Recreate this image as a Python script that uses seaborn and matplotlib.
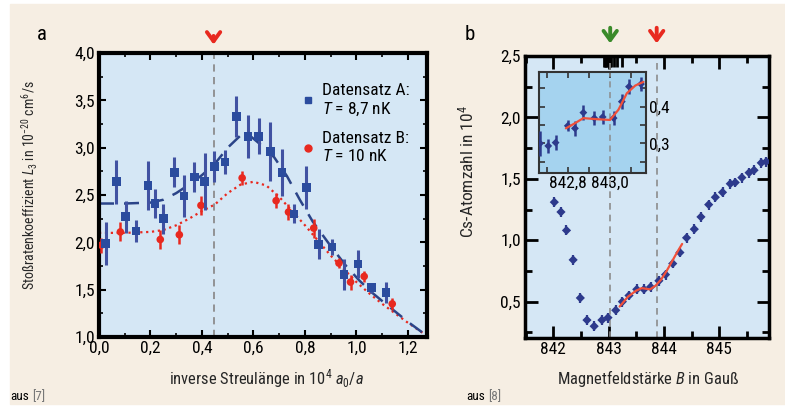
import matplotlib
matplotlib.use('Agg')
import matplotlib.pyplot as plt
import seaborn as sns
from matplotlib import font_manager
from matplotlib.patches import Rectangle
from matplotlib.lines import Line2D
from matplotlib.ticker import MultipleLocator, FixedLocator

# ---------------- panel a: L3 vs inverse scattering length ----------------
setA_x = [0.026, 0.067, 0.104, 0.143, 0.19, 0.217, 0.25, 0.293, 0.331, 0.37, 0.41, 0.448, 0.49,
          0.534, 0.578, 0.62, 0.666, 0.71, 0.757, 0.805, 0.853, 0.905, 0.952, 1.006, 1.058, 1.114]
setA_L3 = [1.99, 2.64, 2.27, 2.12, 2.60, 2.41, 2.25, 2.74, 2.49, 2.69, 2.64, 2.80, 2.85,
           3.33, 3.12, 3.12, 2.96, 2.74, 2.30, 2.58, 1.98, 1.95, 1.66, 1.77, 1.52, 1.47]
setA_err = [0.23, 0.23, 0.17, 0.12, 0.26, 0.15, 0.16, 0.16, 0.22, 0.16, 0.30, 0.16, 0.13,
            0.22, 0.23, 0.19, 0.31, 0.25, 0.10, 0.23, 0.16, 0.08, 0.16, 0.15, 0.05, 0.11]

setB_x = [0.009, 0.083, 0.238, 0.312, 0.396, 0.556, 0.688, 0.736, 0.834, 0.932, 0.977, 1.03, 1.139]
setB_L3 = [1.97, 2.11, 2.03, 2.08, 2.39, 2.68, 2.44, 2.32, 2.15, 1.78, 1.58, 1.64, 1.35]
setB_err = [0.08, 0.10, 0.10, 0.10, 0.10, 0.07, 0.08, 0.08, 0.10, 0.05, 0.08, 0.06, 0.06]

fitA_x = [0.0, 0.1, 0.2, 0.25, 0.3, 0.35, 0.4, 0.45, 0.5, 0.55, 0.58, 0.62, 0.68, 0.73, 0.78,
          0.83, 0.9, 0.96, 1.01, 1.06, 1.1, 1.15, 1.2, 1.27]
fitA_L3 = [2.41, 2.41, 2.42, 2.45, 2.52, 2.61, 2.71, 2.83, 3.00, 3.13, 3.14, 3.05, 2.90, 2.70, 2.45,
           2.22, 1.96, 1.75, 1.60, 1.47, 1.38, 1.27, 1.16, 1.02]

fitB_x = [0.0, 0.1, 0.2, 0.25, 0.3, 0.35, 0.4, 0.45, 0.5, 0.55, 0.6, 0.65, 0.7, 0.75, 0.8,
          0.85, 0.9, 0.95, 1.0, 1.05, 1.1, 1.15, 1.2, 1.27]
fitB_L3 = [2.10, 2.10, 2.11, 2.13, 2.18, 2.25, 2.33, 2.40, 2.52, 2.61, 2.64, 2.60, 2.48, 2.33, 2.18,
           2.02, 1.86, 1.72, 1.58, 1.46, 1.35, 1.25, 1.15, 1.02]

a_xticks = [0.0, 0.2, 0.4, 0.6, 0.8, 1.0, 1.2]
a_xticklabels = ['0,0', '0,2', '0,4', '0,6', '0,8', '1,0', '1,2']
a_yticks = [1.0, 1.5, 2.0, 2.5, 3.0, 3.5, 4.0]
a_yticklabels = ['1,0', '1,5', '2,0', '2,5', '3,0', '3,5', '4,0']
a_marker_line = 0.445

# ---------------- panel b: Cs atom number vs magnetic field ----------------
field_B = [842.02, 842.14, 842.24, 842.36, 842.49, 842.61, 842.74, 842.88, 842.99, 843.13, 843.25,
           843.37, 843.51, 843.64, 843.76, 843.91, 844.03, 844.16, 844.29, 844.41, 844.55, 844.67,
           844.81, 844.93, 845.06, 845.20, 845.29, 845.41, 845.54, 845.63, 845.76, 845.85]
atoms_N = [1.31, 1.23, 1.08, 0.84, 0.53, 0.35, 0.30, 0.35, 0.37, 0.43, 0.50,
           0.55, 0.60, 0.60, 0.62, 0.67, 0.72, 0.81, 0.90, 1.02, 1.09, 1.19,
           1.29, 1.35, 1.39, 1.46, 1.47, 1.51, 1.55, 1.57, 1.63, 1.64]
fit_B = [843.2, 843.35, 843.5, 843.6, 843.75, 843.85, 843.95, 844.05, 844.15, 844.25, 844.33]
fit_N = [0.46, 0.54, 0.59, 0.61, 0.60, 0.63, 0.68, 0.75, 0.83, 0.91, 0.97]

b_xticks = [842, 843, 844, 845]
b_xticklabels = ['842', '843', '844', '845']
b_yticks = [0.5, 1.0, 1.5, 2.0, 2.5]
b_yticklabels = ['0,5', '1,0', '1,5', '2,0', '2,5']
b_lines = [843.03, 843.87]
b_top_marks = [842.92, 842.94, 842.96, 842.98, 843.0, 843.02, 843.05, 843.1, 843.15, 843.25]

# inset zoom around 843 G
inset_B = [842.667, 842.706, 842.741, 842.799, 842.833, 842.873, 842.925, 842.965, 843.017,
           843.056, 843.090, 843.147]
inset_N = [0.300, 0.293, 0.302, 0.348, 0.341, 0.384, 0.369, 0.372, 0.369, 0.414, 0.455, 0.462]
inset_err = [0.035, 0.02, 0.02, 0.015, 0.02, 0.02, 0.02, 0.02, 0.02, 0.02, 0.02, 0.02]
inset_fit_B = [842.79, 842.833, 842.873, 842.937, 843.0, 843.04, 843.08, 843.12, 843.159]
inset_fit_N = [0.341, 0.355, 0.369, 0.366, 0.364, 0.392, 0.437, 0.458, 0.468]
inset_line = 843.0
inset_xticks = [842.8, 843.0]
inset_xticklabels = ['842,8', '843,0']
inset_yticks = [0.3, 0.4]
inset_yticklabels = ['0,3', '0,4']

# colours
BEIGE = '#f6eee3'
PANEL = '#d5e7f5'
INSET = '#a5d3ef'
BLUE = '#2b4c9e'
NAVY = '#2d3a8c'
RED = '#e8291f'
GREEN = '#3a8a2a'
GRAY = '#8c8c8c'

# look for a narrow font, the original uses a condensed sans
installed = {f.name for f in font_manager.fontManager.ttflist}
narrow = [f.name for f in font_manager.fontManager.ttflist
          if 'narrow' in f.name.lower() or 'condensed' in f.name.lower()
          or str(f.stretch).lower() in ('condensed', 'semi-condensed')]
FONT = None
for cand in ['Liberation Sans Narrow', 'Roboto Condensed', 'Open Sans Condensed',
             'DejaVu Sans Condensed', 'Noto Sans Condensed']:
    if cand in installed:
        FONT = cand
        break
if FONT is None and narrow:
    FONT = narrow[0]
SHRINK = 1.0
if FONT is None:
    FONT = 'Liberation Sans' if 'Liberation Sans' in installed else 'DejaVu Sans'
    SHRINK = 0.85

sns.set_theme(style='ticks')
plt.rcParams['font.family'] = [FONT, 'DejaVu Sans']
plt.rcParams['font.stretch'] = 'condensed'
plt.rcParams['mathtext.fontset'] = 'custom'
plt.rcParams['mathtext.rm'] = FONT
plt.rcParams['mathtext.it'] = FONT + ':italic'
plt.rcParams['text.color'] = 'black'
plt.rcParams['xtick.color'] = 'black'
plt.rcParams['ytick.color'] = 'black'

FS_TICK = 12.5 * SHRINK
FS_LAB = 11.9 * SHRINK

fig = plt.figure(figsize=(7.85, 4.09), dpi=100, facecolor='white')
fig.patches.append(Rectangle((10 / 785, 5 / 409), 775 / 785, 400 / 409,
                             transform=fig.transFigure, color=BEIGE, zorder=-10))


def style_axes(ax, lw, major, minor):
    ax.set_facecolor(PANEL)
    for s in ax.spines.values():
        s.set_linewidth(lw)
        s.set_color('black')
    ax.tick_params(which='both', direction='in', top=True, right=True, labelsize=FS_TICK, pad=3)
    ax.tick_params(which='major', length=major, width=1.5)
    ax.tick_params(which='minor', length=minor, width=1.2)


def arrow(ax, x, color, y0, y1):
    tr = ax.get_xaxis_transform()
    ax.annotate('', xy=(x, y1), xycoords=tr, xytext=(x, y0), textcoords=tr,
                arrowprops=dict(arrowstyle='->,head_length=0.55,head_width=0.4',
                                color=color, lw=2.8), annotation_clip=False)


# ---------------- panel a ----------------
ax = fig.add_axes([99 / 785, 72 / 409, 328 / 785, 284 / 409])
style_axes(ax, 3, 5, 3)
ax.axvline(a_marker_line, color=GRAY, ls=(0, (4, 3)), lw=1.3, zorder=1)
sns.lineplot(x=fitB_x, y=fitB_L3, ax=ax, color=RED, lw=1.6, ls=':', sort=False, estimator=None, zorder=2)
sns.lineplot(x=fitA_x, y=fitA_L3, ax=ax, color='#2b4488', lw=1.8, ls=(0, (6, 4)), sort=False,
             estimator=None, zorder=2)
ax.errorbar(setB_x, setB_L3, yerr=setB_err, fmt='none', ecolor=RED, elinewidth=1.8, zorder=3)
sns.scatterplot(x=setB_x, y=setB_L3, ax=ax, marker='o', s=30, color=RED, edgecolor='none', zorder=4)
ax.errorbar(setA_x, setA_L3, yerr=setA_err, fmt='none', ecolor='#4152a2', elinewidth=2.2, zorder=5)
sns.scatterplot(x=setA_x, y=setA_L3, ax=ax, marker='s', s=38, color=BLUE, edgecolor='none', zorder=6)

ax.set_xlim(0, 1.274)
ax.set_ylim(1.0, 4.0)
ax.xaxis.set_major_locator(FixedLocator(a_xticks))
ax.set_xticklabels(a_xticklabels)
ax.xaxis.set_minor_locator(MultipleLocator(0.1))
ax.yaxis.set_major_locator(FixedLocator(a_yticks))
ax.set_yticklabels(a_yticklabels)
ax.yaxis.set_minor_locator(MultipleLocator(0.25))
ax.set_xlabel(r'inverse Streulänge in 10$^4$ $a_0/a$', fontsize=FS_LAB)
ax.set_ylabel(r'Stoßratenkoeffizient $L_3$ in 10$^{-20}$ cm$^6$/s', fontsize=10 * SHRINK)
ax.xaxis.set_label_coords(0.511, -0.105)
ax.yaxis.set_label_coords(-0.18, 0.535)

handles = [Line2D([], [], ls='none', marker='s', ms=5, color=BLUE),
           Line2D([], [], ls='none', marker='o', ms=5, color=RED)]
ax.legend(handles, ['Datensatz A:\n$T$ = 8,7 nK', 'Datensatz B:\n$T$ = 10 nK'],
          loc='upper left', bbox_to_anchor=(0.615, 0.895), frameon=False, fontsize=FS_TICK,
          handlelength=0.8, handletextpad=0.4, labelspacing=0.75, borderpad=0, borderaxespad=0)
arrow(ax, a_marker_line, RED, 1.07, 1.02)

# ---------------- panel b ----------------
bx = fig.add_axes([525 / 785, 71 / 409, 244 / 785, 282 / 409])
style_axes(bx, 2.5, 9, 5)
bx.tick_params(which='both', width=2)
for xv in b_lines:
    bx.axvline(xv, color=GRAY, ls=(0, (4, 3)), lw=1.2, zorder=1)
bx.errorbar(field_B, atoms_N, yerr=0.04, xerr=0.03, fmt='none', ecolor=NAVY, elinewidth=1.6, zorder=3)
sns.scatterplot(x=field_B, y=atoms_N, ax=bx, marker='D', s=22, color=NAVY, edgecolor='none', zorder=4)
sns.lineplot(x=fit_B, y=fit_N, ax=bx, color='#f0503a', lw=1.6, sort=False, estimator=None, zorder=5)
bx.set_xlim(841.49, 845.9)
bx.set_ylim(0.204, 2.5)
bx.xaxis.set_major_locator(FixedLocator(b_xticks))
bx.set_xticklabels(b_xticklabels)
bx.xaxis.set_minor_locator(MultipleLocator(0.5))
bx.yaxis.set_major_locator(FixedLocator(b_yticks))
bx.set_yticklabels(b_yticklabels)
bx.yaxis.set_minor_locator(MultipleLocator(0.25))
bx.set_xlabel(r'Magnetfeldstärke $B$ in Gauß', fontsize=FS_LAB)
bx.set_ylabel(r'Cs-Atomzahl in 10$^4$', fontsize=FS_TICK)
bx.xaxis.set_label_coords(0.504, -0.105)
bx.yaxis.set_label_coords(-0.2, 0.59)
arrow(bx, b_lines[0], GREEN, 1.11, 1.035)
arrow(bx, b_lines[1], RED, 1.11, 1.035)

# dense marks on the top edge of panel b
top = bx.secondary_xaxis('top')
top.xaxis.set_major_locator(FixedLocator(b_top_marks))
top.tick_params(direction='in', length=8, width=2, labeltop=False)
top.spines['top'].set_visible(False)

# ---------------- inset ----------------
ix = fig.add_axes([539 / 785, 236 / 409, 107 / 785, 101 / 409])
ix.set_facecolor(INSET)
for s in ix.spines.values():
    s.set_linewidth(1.5)
    s.set_color('#333333')
ix.axvline(inset_line, color=GRAY, ls=(0, (4, 3)), lw=1.1, zorder=1)
ix.errorbar(inset_B, inset_N, yerr=inset_err, fmt='none', ecolor=NAVY, elinewidth=1.8, zorder=3)
sns.scatterplot(x=inset_B, y=inset_N, ax=ix, marker='D', s=16, color=NAVY, edgecolor='none', zorder=4)
sns.lineplot(x=inset_fit_B, y=inset_fit_N, ax=ix, color='#f0503a', lw=1.6, sort=False, estimator=None, zorder=5)
ix.set_xlim(842.662, 843.171)
ix.set_ylim(0.219, 0.495)
ix.xaxis.set_major_locator(FixedLocator(inset_xticks))
ix.set_xticklabels(inset_xticklabels)
ix.xaxis.set_minor_locator(MultipleLocator(0.1))
ix.yaxis.set_major_locator(FixedLocator(inset_yticks))
ix.set_yticklabels(inset_yticklabels)
ix.yaxis.set_minor_locator(MultipleLocator(0.05))
ix.tick_params(which='both', direction='in', top=True, right=True, left=True, bottom=True,
               labelleft=False, labelright=True, labelsize=FS_TICK, color='#333333', pad=2)
ix.tick_params(which='major', length=4, width=1.2)
ix.tick_params(which='minor', length=4, width=1.2)
ix.set_xlabel('')
ix.set_ylabel('')

# panel letters and sources
fig.text(42 / 785, 1 - 35 / 409, 'a', fontsize=15 * SHRINK, ha='center', va='center')
fig.text(470 / 785, 1 - 35 / 409, 'b', fontsize=15 * SHRINK, ha='center', va='center')
for x0, ref in [(10, '[7]'), (466, '[8]')]:
    t = fig.text(x0 / 785, 1 - 397 / 409, 'aus', fontsize=9.5 * SHRINK, ha='left', va='center')
    plt.annotate(ref, xy=(1, 0.5), xycoords=t, xytext=(2.5, 0), textcoords='offset points',
                 fontsize=9.5 * SHRINK, va='center', ha='left', color='#777777',
                 annotation_clip=False)

fig.savefig('out.png', dpi=100, facecolor='white')
